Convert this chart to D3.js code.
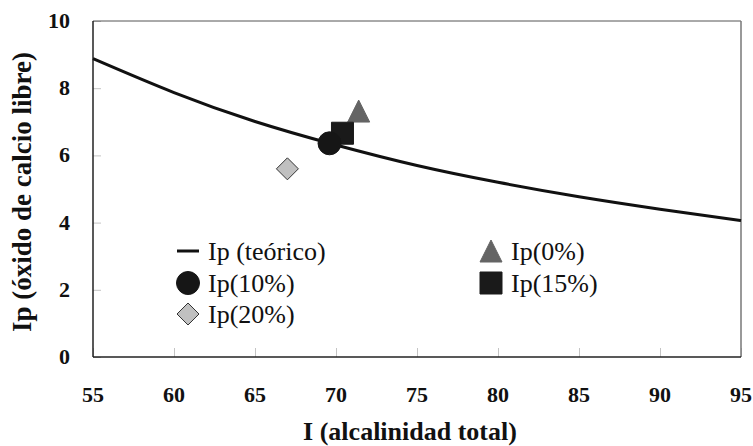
<!DOCTYPE html>
<html>
<head>
<meta charset="utf-8">
<script src="https://cdn.jsdelivr.net/npm/d3@7"></script>
<style>
  body { margin: 0; background: #fff; }
  text { font-family: 'Liberation Serif', 'Times New Roman', serif; }
</style>
</head>
<body>
<div id="chart"></div>
<script>
// Theoretical curve
const teoricoI = [55, 60, 65, 70, 75, 80, 85, 90, 95]
const teoricoIp = [8.88, 7.87, 7.01, 6.31, 5.70, 5.20, 4.77, 4.40, 4.06]

// Measured points
const puntoLabels = ['Ip(0%)', 'Ip(10%)', 'Ip(15%)', 'Ip(20%)']
const puntoI = [71.4, 69.6, 70.4, 67.0]
const puntoIp = [7.32, 6.36, 6.66, 5.60]

const xTicks = [55, 60, 65, 70, 75, 80, 85, 90, 95]
const yTicks = [0, 2, 4, 6, 8, 10]

const width = 753
const height = 446
const margin = { top: 21, right: 12, bottom: 89, left: 93 }
const plotW = width - margin.left - margin.right
const plotH = height - margin.top - margin.bottom

// Excel-like marker shapes (size = bounding box side in px)
const triangleShape = {
  draw(ctx, s) {
    const h = s / 2
    ctx.moveTo(0, -h)
    ctx.lineTo(h, h)
    ctx.lineTo(-h, h)
    ctx.closePath()
  }
}
const diamondShape = {
  draw(ctx, s) {
    const h = s / 2
    ctx.moveTo(0, -h)
    ctx.lineTo(h, 0)
    ctx.lineTo(0, h)
    ctx.lineTo(-h, 0)
    ctx.closePath()
  }
}
const circleShape = {
  draw(ctx, s) {
    const r = s / 2
    ctx.moveTo(r, 0)
    ctx.arc(0, 0, r, 0, 2 * Math.PI)
  }
}
const squareShape = {
  draw(ctx, s) {
    const h = s / 2
    ctx.rect(-h, -h, s, s)
  }
}

// Marker styles by series
const markers = {
  'Ip(0%)':  { shape: triangleShape, fill: '#646464', stroke: '#646464', size: 22 },
  'Ip(10%)': { shape: circleShape,   fill: '#161616', stroke: '#161616', size: 23 },
  'Ip(15%)': { shape: squareShape,   fill: '#1a1a1a', stroke: '#1a1a1a', size: 22 },
  'Ip(20%)': { shape: diamondShape,  fill: '#c0c0c0', stroke: '#333333', size: 22 }
}

const svg = d3.select('#chart')
  .append('svg')
  .attr('width', width)
  .attr('height', height)

const x = d3.scaleLinear().domain([55, 95]).range([0, plotW])
const y = d3.scaleLinear().domain([0, 10]).range([plotH, 0])

const g = svg.append('g')
  .attr('transform', `translate(${margin.left},${margin.top})`)

// Ticks (inside, light gray)
const xAxis = d3.axisBottom(x).tickValues(xTicks).tickSizeInner(-9).tickSizeOuter(0).tickFormat('')
const yAxis = d3.axisLeft(y).tickValues(yTicks).tickSizeInner(-8).tickSizeOuter(0).tickFormat('')

const gx = g.append('g').attr('transform', `translate(0,${plotH})`).call(xAxis)
const gy = g.append('g').call(yAxis)
gx.select('.domain').remove()
gy.select('.domain').remove()
g.selectAll('.tick line').attr('stroke', '#c4c4c4').attr('stroke-width', 1)

// Tick labels
g.append('g').selectAll('text')
  .data(xTicks)
  .join('text')
  .attr('x', d => x(d))
  .attr('y', plotH + 45)
  .attr('text-anchor', 'middle')
  .attr('font-size', '22px')
  .attr('font-weight', 'bold')
  .attr('fill', '#111')
  .text(d => d)

g.append('g').selectAll('text')
  .data(yTicks)
  .join('text')
  .attr('x', -23)
  .attr('y', d => y(d) + 7)
  .attr('text-anchor', 'end')
  .attr('font-size', '22px')
  .attr('font-weight', 'bold')
  .attr('fill', '#111')
  .text(d => d)

// Frame
g.append('line').attr('x1', 0).attr('x2', plotW).attr('y1', 0).attr('y2', 0)
  .attr('stroke', '#555').attr('stroke-width', 1)
g.append('line').attr('x1', plotW).attr('x2', plotW).attr('y1', 0).attr('y2', plotH)
  .attr('stroke', '#777').attr('stroke-width', 1.5)
g.append('line').attr('x1', 0).attr('x2', 0).attr('y1', 0).attr('y2', plotH)
  .attr('stroke', '#222').attr('stroke-width', 1.5)
g.append('line').attr('x1', 0).attr('x2', plotW).attr('y1', plotH).attr('y2', plotH)
  .attr('stroke', '#222').attr('stroke-width', 1.5)

// Theoretical curve
const teorico = teoricoI.map((v, i) => [v, teoricoIp[i]])
const line = d3.line()
  .x(d => x(d[0]))
  .y(d => y(d[1]))
  .curve(d3.curveNatural)

g.append('path')
  .datum(teorico)
  .attr('fill', 'none')
  .attr('stroke', '#111')
  .attr('stroke-width', 3)
  .attr('d', line)

// Measured points
const puntos = puntoLabels.map((k, i) => ({ key: k, I: puntoI[i], Ip: puntoIp[i] }))
const drawOrder = ['Ip(20%)', 'Ip(0%)', 'Ip(15%)', 'Ip(10%)']

g.append('g').selectAll('path')
  .data(drawOrder.map(k => puntos.find(p => p.key === k)))
  .join('path')
  .attr('transform', d => `translate(${x(d.I)},${y(d.Ip)})`)
  .attr('d', d => d3.symbol().type(markers[d.key].shape).size(markers[d.key].size)())
  .attr('fill', d => markers[d.key].fill)
  .attr('stroke', d => markers[d.key].stroke)
  .attr('stroke-width', 1)

// Legend
const legendItems = [
  { label: 'Ip (teórico)', key: null, x: 188, y: 260 },
  { label: 'Ip(10%)', key: 'Ip(10%)', x: 188, y: 292 },
  { label: 'Ip(20%)', key: 'Ip(20%)', x: 188, y: 323 },
  { label: 'Ip(0%)', key: 'Ip(0%)', x: 491, y: 260 },
  { label: 'Ip(15%)', key: 'Ip(15%)', x: 491, y: 292 }
]

const legend = svg.append('g')
legendItems.forEach(item => {
  const cy = item.y - 9
  if (item.key === null) {
    legend.append('line')
      .attr('x1', item.x - 11).attr('x2', item.x + 11)
      .attr('y1', cy).attr('y2', cy)
      .attr('stroke', '#111').attr('stroke-width', 3)
  } else {
    const m = markers[item.key]
    legend.append('path')
      .attr('transform', `translate(${item.x},${cy})`)
      .attr('d', d3.symbol().type(m.shape).size(m.size)())
      .attr('fill', m.fill)
      .attr('stroke', m.stroke)
      .attr('stroke-width', 1)
  }
  legend.append('text')
    .attr('x', item.x + 20)
    .attr('y', item.y)
    .attr('font-size', '26px')
    .attr('fill', '#111')
    .text(item.label)
})

// Axis titles
svg.append('text')
  .attr('x', 410)
  .attr('y', 440)
  .attr('text-anchor', 'middle')
  .attr('font-size', '26px')
  .attr('font-weight', 'bold')
  .attr('fill', '#111')
  .text('I (alcalinidad total)')

svg.append('text')
  .attr('transform', 'translate(31,192) rotate(-90)')
  .attr('text-anchor', 'middle')
  .attr('font-size', '27px')
  .attr('font-weight', 'bold')
  .attr('fill', '#111')
  .text('Ip (óxido de calcio libre)')
</script>
</body>
</html>
